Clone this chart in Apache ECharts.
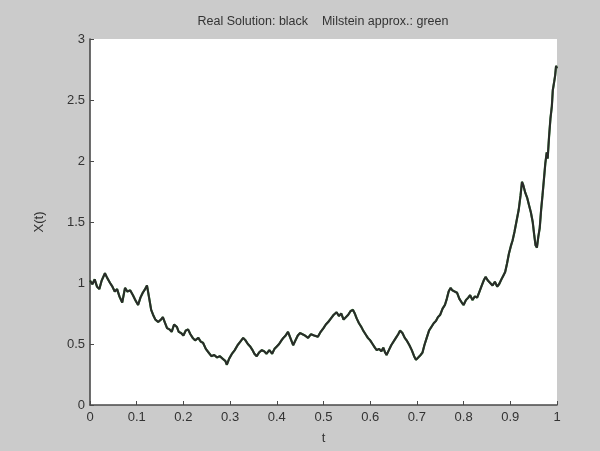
<!DOCTYPE html>
<html>
<head>
<meta charset="utf-8">
<script src="https://cdn.jsdelivr.net/npm/echarts@6/dist/echarts.min.js"></script>
<style>
  html, body { margin: 0; padding: 0; background: #cbcbcb; }
  #chart { width: 600px; height: 451px; }
</style>
</head>
<body>
<div id="chart"></div>
<script>
// Time grid of the simulated path
const timePoints = [
  0.000,0.005,0.010,0.015,0.020,0.025,0.032,0.037,0.043,0.048,0.053,0.058,0.063,0.069,0.075,0.080,0.086,0.092,0.097,0.103,
  0.108,0.113,0.118,0.122,0.127,0.131,0.135,0.140,0.146,0.152,0.156,0.160,0.165,0.170,0.175,0.180,0.186,0.190,0.195,0.200,
  0.205,0.210,0.215,0.220,0.225,0.232,0.237,0.242,0.248,0.254,0.260,0.266,0.272,0.278,0.284,0.290,0.293,0.298,0.304,0.310,
  0.316,0.322,0.328,0.333,0.338,0.343,0.348,0.352,0.357,0.362,0.368,0.373,0.378,0.384,0.390,0.395,0.400,0.405,0.410,0.414,
  0.419,0.424,0.429,0.435,0.440,0.445,0.450,0.454,0.460,0.467,0.473,0.480,0.488,0.494,0.500,0.505,0.510,0.516,0.522,0.528,
  0.533,0.538,0.543,0.548,0.553,0.558,0.563,0.567,0.571,0.576,0.581,0.585,0.590,0.595,0.600,0.605,0.610,0.614,0.619,0.624,
  0.628,0.632,0.635,0.640,0.645,0.650,0.655,0.660,0.664,0.669,0.674,0.678,0.684,0.689,0.694,0.698,0.703,0.708,0.712,0.716,
  0.721,0.726,0.731,0.736,0.741,0.745,0.750,0.755,0.760,0.764,0.768,0.772,0.776,0.781,0.786,0.791,0.796,0.800,0.805,0.810,
  0.814,0.819,0.824,0.829,0.834,0.839,0.843,0.847,0.852,0.857,0.862,0.867,0.872,0.876,0.881,0.885,0.889,0.893,0.897,0.901,
  0.905,0.909,0.914,0.918,0.922,0.925,0.928,0.932,0.936,0.940,0.944,0.948,0.951,0.954,0.957,0.960,0.963,0.966,0.969,0.972,
  0.975,0.978,0.980,0.983,0.986,0.989,0.991,0.994,0.996,0.998,1.000
];

// Exact solution X(t)
const realSolution = [
  1.02,0.99,1.03,0.97,0.95,1.02,1.08,1.04,1.00,0.97,0.93,0.95,0.89,0.84,0.96,0.93,0.94,0.90,0.86,0.82,
  0.88,0.92,0.95,0.98,0.87,0.78,0.74,0.70,0.68,0.70,0.72,0.68,0.63,0.62,0.60,0.66,0.64,0.60,0.59,0.57,
  0.61,0.62,0.58,0.55,0.53,0.55,0.52,0.51,0.46,0.43,0.40,0.41,0.39,0.40,0.38,0.36,0.33,0.38,0.42,0.45,
  0.49,0.52,0.55,0.53,0.50,0.48,0.45,0.42,0.40,0.43,0.45,0.44,0.42,0.45,0.42,0.46,0.48,0.50,0.53,0.55,
  0.57,0.60,0.55,0.49,0.53,0.57,0.59,0.60,0.57,0.55,0.58,0.57,0.56,0.60,0.63,0.66,0.68,0.71,0.74,0.76,
  0.73,0.75,0.70,0.72,0.74,0.77,0.78,0.75,0.71,0.67,0.64,0.61,0.58,0.55,0.53,0.50,0.47,0.45,0.46,0.44,
  0.47,0.43,0.41,0.45,0.49,0.52,0.55,0.58,0.61,0.59,0.55,0.53,0.49,0.45,0.40,0.37,0.39,0.41,0.43,0.49,
  0.55,0.61,0.64,0.67,0.69,0.72,0.74,0.79,0.82,0.87,0.93,0.96,0.94,0.93,0.92,0.87,0.84,0.82,0.86,0.88,
  0.90,0.86,0.89,0.88,0.93,0.98,1.02,1.05,1.02,1.00,0.98,1.01,0.97,0.99,1.03,1.06,1.09,1.16,1.24,1.30,
  1.35,1.42,1.52,1.60,1.72,1.83,1.80,1.74,1.70,1.64,1.58,1.50,1.40,1.31,1.29,1.38,1.45,1.60,1.72,1.85,
  1.98,2.07,2.02,2.20,2.35,2.45,2.58,2.65,2.70,2.78,2.76
];

// Milstein approximation (practically coincides with the exact path)
const milsteinApprox = realSolution.slice();

const xTicks = [0, 0.1, 0.2, 0.3, 0.4, 0.5, 0.6, 0.7, 0.8, 0.9, 1];
const yTicks = [0, 0.5, 1, 1.5, 2, 2.5, 3];

const toPairs = (ts, vs) => ts.map((t, i) => [t, vs[i]]);

const chart = echarts.init(document.getElementById('chart'), null, { renderer: 'canvas' });
const axisColor = '#4a4a4a';
const fontFamily = 'Liberation Sans, Arial, sans-serif';
const labelStyle = { color: '#333333', fontFamily: fontFamily, fontSize: 13 };

chart.setOption({
  backgroundColor: '#cbcbcb',
  animation: false,
  title: {
    text: 'Real Solution: black    Milstein approx.: green',
    left: 318, top: 10, textAlign: 'center',
    textStyle: { color: '#333333', fontSize: 12.5, fontWeight: 'normal', fontFamily: fontFamily }
  },
  grid: { left: 90, right: 43, top: 39, bottom: 46, show: true, backgroundColor: '#ffffff', borderWidth: 0 },
  xAxis: {
    type: 'value', min: 0, max: 1, interval: 0.1,
    name: 't', nameLocation: 'middle', nameGap: 27,
    nameTextStyle: labelStyle,
    axisLine: { lineStyle: { color: axisColor, width: 1.6 } },
    axisTick: { inside: true, length: 4, lineStyle: { color: axisColor } },
    axisLabel: Object.assign({ margin: 6, formatter: v => xTicks.includes(+v.toFixed(1)) ? String(+v.toFixed(1)) : '' }, labelStyle),
    splitLine: { show: false }
  },
  yAxis: {
    type: 'value', min: 0, max: 3, interval: 0.5,
    name: 'X(t)', nameLocation: 'middle', nameGap: 44,
    nameTextStyle: labelStyle,
    axisLine: { show: true, lineStyle: { color: axisColor, width: 1.6 } },
    axisTick: { show: true, inside: true, length: 4, lineStyle: { color: axisColor } },
    axisLabel: Object.assign({ margin: 5, formatter: v => yTicks.includes(+v.toFixed(1)) ? String(+v.toFixed(1)) : '' }, labelStyle),
    splitLine: { show: false }
  },
  series: [
    {
      name: 'Milstein approx.', type: 'line', data: toPairs(timePoints, milsteinApprox),
      showSymbol: false, lineStyle: { color: '#3f8f3f', width: 2.2 }, z: 2
    },
    {
      name: 'Real Solution', type: 'line', data: toPairs(timePoints, realSolution),
      showSymbol: false, lineStyle: { color: '#2a2a2a', width: 2 }, z: 3
    }
  ]
});
</script>
</body>
</html>
